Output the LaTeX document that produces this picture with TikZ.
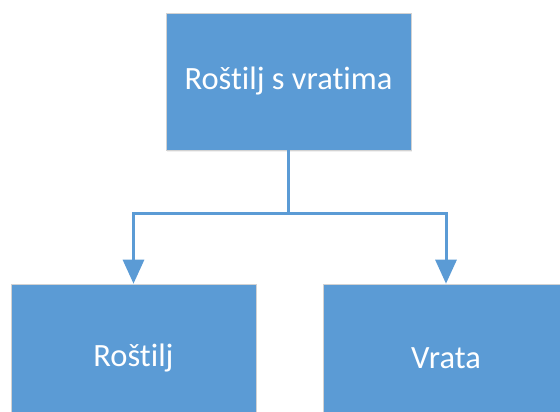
\documentclass[tikz,border=0pt]{standalone}
\usepackage{fontspec}
\setmainfont{Carlito}[Ligatures=NoCommon]
\usetikzlibrary{arrows.meta,shadows}

\definecolor{boxblue}{RGB}{91,155,213}

\begin{document}
\begin{tikzpicture}[x=1pt,y=1pt,
 box/.style={rectangle,fill=boxblue,draw=gray!35,line width=0.6pt,minimum width=245pt,minimum height=137pt,text=white,font=\fontsize{32.5}{38}\selectfont,drop shadow={opacity=0.12,shadow xshift=1pt,shadow yshift=-2pt}},
 link/.style={draw=boxblue,line width=3pt,-{Triangle[width=21pt,length=24pt]}}]
 \useasboundingbox (0,0) rectangle (560,412);
 \node[box] (rostilj) at (288.5,330.5) {Roštilj s vratima};
 \node[box,minimum height=148pt] (grill) at (133.5,54) {Roštilj};
 \node[box,minimum height=148pt] (vrata) at (446,54) {Vrata};
 \draw[link] (rostilj.south) -- ++(0,-63) -| (grill.north);
 \draw[link] (rostilj.south) -- ++(0,-63) -| (vrata.north);
\end{tikzpicture}
\end{document}
